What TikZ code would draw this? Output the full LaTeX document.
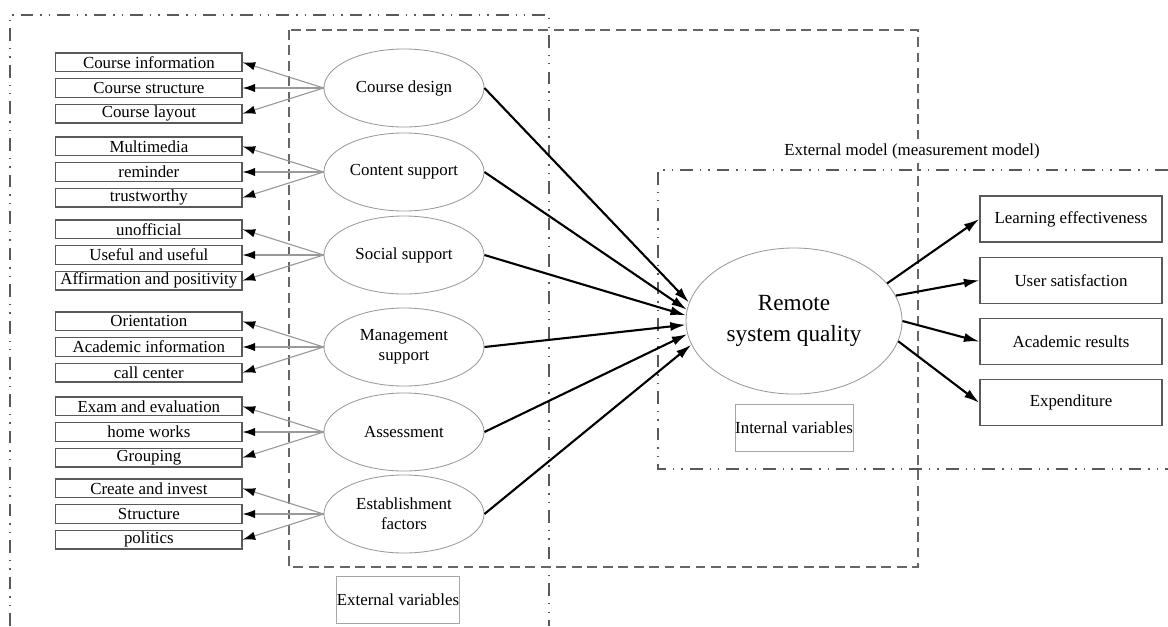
\documentclass[tikz,border=0pt]{standalone}
\usepackage{fontspec}
\setmainfont{Liberation Serif}
\usetikzlibrary{arrows.meta,positioning,shapes.geometric}

\begin{document}
\begin{tikzpicture}[x=0.025cm,y=-0.025cm,font=\fontsize{12}{14}\selectfont,
	item/.style={draw=black!65,line width=0.9pt,minimum width=4.65cm,minimum height=0.47cm,inner sep=0pt},
	factor/.style={ellipse,draw=black!40,line width=0.6pt,minimum width=4cm,minimum height=1.95cm,inner sep=0pt,align=center},
	result/.style={draw=black!65,line width=0.9pt,minimum width=4.55cm,minimum height=1.15cm,inner sep=0pt},
	tag/.style={draw=black!35,line width=0.6pt,minimum width=2.95cm,minimum height=1.175cm,inner sep=0pt},
	load/.style={-{Latex[length=9pt,width=6pt,color=black,fill=black]},black!40,line width=0.8pt},
	effect/.style={-{Latex[length=11pt,width=6.5pt]},black,line width=1.5pt},
	frame/.style={draw=black!65,line width=1.2pt,dash pattern=on 9pt off 5pt on 1pt off 5pt on 1pt off 5pt},
	zone/.style={draw=black!60,line width=1.1pt,dash pattern=on 7pt off 4pt}]
			\useasboundingbox (0,0) rectangle (1168,626);
			% frames
			\draw[frame] (10,626) -- (10,15) -- (549,15) -- (549,626);
			\draw[zone] (289,30) rectangle (918,567);
			\draw[frame] (1168,170) -- (658,170) -- (658,469) -- (1168,469);
			\node[fill=white] (em) at (912,151) {External model (measurement model)};
			% latent factors
			\node[factor] (f_1) at (404,88) {Course design};
			\node[factor] (f_2) at (404,172) {Content support};
			\node[factor] (f_3) at (404,255) {Social support};
			\node[factor] (f_4) at (404,347) {Management\\support};
			\node[factor] (f_5) at (404,432) {Assessment};
			\node[factor] (f_6) at (404,514) {Establishment\\factors};
			% indicators
			\node[item] [left=2.025cm of f_1] (i_1_2) {Course structure};
			\node[item] [above=0.14cm of i_1_2] (i_1_1) {Course information};
			\node[item] [below=0.14cm of i_1_2] (i_1_3) {Course layout};
			\node[item] [left=2.025cm of f_2] (i_2_2) {reminder};
			\node[item] [above=0.14cm of i_2_2] (i_2_1) {Multimedia};
			\node[item] [below=0.14cm of i_2_2] (i_2_3) {trustworthy};
			\node[item] [left=2.025cm of f_3] (i_3_2) {Useful and useful};
			\node[item] [above=0.14cm of i_3_2] (i_3_1) {unofficial};
			\node[item] [below=0.14cm of i_3_2] (i_3_3) {Affirmation and positivity};
			\node[item] [left=2.025cm of f_4] (i_4_2) {Academic information};
			\node[item] [above=0.14cm of i_4_2] (i_4_1) {Orientation};
			\node[item] [below=0.14cm of i_4_2] (i_4_3) {call center};
			\node[item] [left=2.025cm of f_5] (i_5_2) {home works};
			\node[item] [above=0.14cm of i_5_2] (i_5_1) {Exam and evaluation};
			\node[item] [below=0.14cm of i_5_2] (i_5_3) {Grouping};
			\node[item] [left=2.025cm of f_6] (i_6_2) {Structure};
			\node[item] [above=0.14cm of i_6_2] (i_6_1) {Create and invest};
			\node[item] [below=0.14cm of i_6_2] (i_6_3) {politics};
			% quality and outcomes
			\node[ellipse,draw=black!40,line width=0.6pt,minimum width=5.4cm,minimum height=3.65cm,align=center,font=\fontsize{16.5}{22}\selectfont] (rsq) at (794,321) {Remote\\system quality};
			\node[result] (o_1) at (1071,219) {Learning effectiveness};
			\node[result] [below=0.35cm of o_1] (o_2) {User satisfaction};
			\node[result] [below=0.35cm of o_2] (o_3) {Academic results};
			\node[result] [below=0.35cm of o_3] (o_4) {Expenditure};
			\node[tag] (iv) at (794,428) {Internal variables};
			\node[tag] (ev) at (398,600) {External variables};
			\path[load]
				(f_1.west) edge (i_1_1.east)
				(f_1.west) edge (i_1_2.east)
				(f_1.west) edge (i_1_3.east)
				(f_2.west) edge (i_2_1.east)
				(f_2.west) edge (i_2_2.east)
				(f_2.west) edge (i_2_3.east)
				(f_3.west) edge (i_3_1.east)
				(f_3.west) edge (i_3_2.east)
				(f_3.west) edge (i_3_3.east)
				(f_4.west) edge (i_4_1.east)
				(f_4.west) edge (i_4_2.east)
				(f_4.west) edge (i_4_3.east)
				(f_5.west) edge (i_5_1.east)
				(f_5.west) edge (i_5_2.east)
				(f_5.west) edge (i_5_3.east)
				(f_6.west) edge (i_6_1.east)
				(f_6.west) edge (i_6_2.east)
				(f_6.west) edge (i_6_3.east);
			\path[effect]
				(f_1.east) edge (rsq.170)
				(f_2.east) edge (rsq.174)
				(f_3.east) edge (rsq.177.5)
				(f_4.east) edge (rsq.182)
				(f_5.east) edge (rsq.187)
				(f_6.east) edge (rsq.193)
				(rsq.22) edge (o_1.west)
				(rsq.14) edge (o_2.west)
				(rsq.0) edge (o_3.west)
				(rsq.-11) edge (o_4.west);
		\end{tikzpicture}
\end{document}
